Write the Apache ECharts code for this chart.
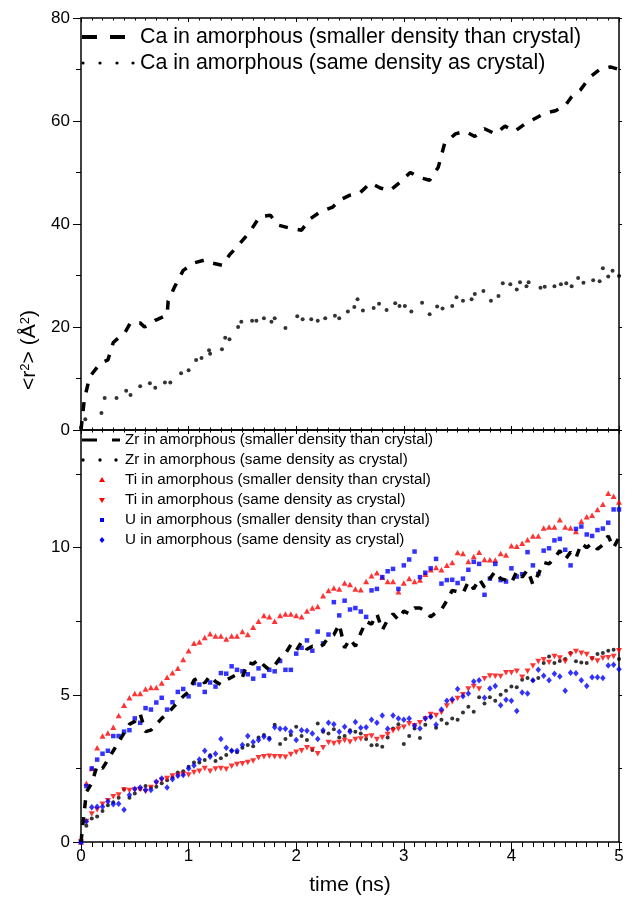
<!DOCTYPE html>
<html>
<head>
<meta charset="utf-8">
<title>MSD amorphous</title>
<script src="https://cdn.jsdelivr.net/npm/echarts@6/dist/echarts.min.js"></script>
<style>
  html, body { margin: 0; padding: 0; background: #fff; }
  #main { width: 631px; height: 900px; }
</style>
</head>
<body>
<div id="main"></div>
<script>
  // top panel: Ca
  const caDashT = [0, 0.03, 0.08, 0.18, 0.25, 0.30, 0.41, 0.46, 0.55, 0.59,
    0.69, 0.80, 0.81, 0.87, 0.95, 1.06, 1.15, 1.22, 1.31, 1.38,
    1.48, 1.57, 1.66, 1.76, 1.83, 1.94, 2.05, 2.13, 2.22, 2.34,
    2.41, 2.50, 2.59, 2.69, 2.78, 2.87, 2.96, 3.06, 3.15, 3.24,
    3.32, 3.38, 3.48, 3.57, 3.66, 3.75, 3.85, 3.94, 4.03, 4.13,
    4.22, 4.31, 4.41, 4.50, 4.56, 4.64, 4.73, 4.82, 4.92, 5.0];
  const caDashV = [0, 5.8, 10.3, 13, 13.6, 17, 19, 20.8, 20.8, 20,
    21.3, 22.3, 25, 27.8, 31, 32.5, 33, 32.4, 32, 34,
    36.3, 38.5, 41.4, 41.7, 39.8, 39.2, 38.8, 41, 42.3, 43.3,
    44.7, 45.6, 46, 48, 47, 46.5, 48, 50, 49, 48.5,
    51, 55.7, 57.5, 58, 57, 58.5, 57.5, 59, 58, 59.5,
    60.5, 61.5, 62, 63, 64.7, 66, 68.5, 70, 70.5, 70];

  const caDotT = [0, 0.04, 0.19, 0.22, 0.33, 0.42, 0.46, 0.55, 0.64, 0.69, 0.78, 0.83, 0.93,
    1.0, 1.07, 1.12, 1.19, 1.2, 1.31, 1.34, 1.38, 1.46, 1.49, 1.59, 1.63, 1.70, 1.77, 1.80, 1.90,
    2.01, 2.06, 2.14, 2.2, 2.27, 2.36, 2.4, 2.48, 2.54, 2.57, 2.62, 2.72, 2.77, 2.84, 2.92, 2.96,
    3.01, 3.07, 3.17, 3.24, 3.31, 3.36, 3.45, 3.49, 3.55, 3.63, 3.66, 3.74, 3.81, 3.88, 3.92, 3.99,
    4.05, 4.08, 4.14, 4.16, 4.27, 4.31, 4.4, 4.46, 4.51, 4.56, 4.62, 4.67, 4.76, 4.82, 4.85, 4.9, 4.94, 5.0];
  const caDotV = [0.5, 2.1, 3.3, 6.2, 6.2, 7.6, 6.8, 8.5, 9.1, 8.2, 9.2, 9.2, 11,
    11.6, 13.6, 14, 15.5, 14.8, 15.7, 17.9, 17.6, 20, 21, 21.2, 21.2, 21.7, 21, 21.7, 19.8,
    22.1, 21.5, 21.5, 21.2, 21.7, 22.2, 21.7, 23, 23.9, 25.4, 23.2, 23.7, 24.5, 23.3, 24.6, 24.1,
    24.1, 23, 24.7, 22.5, 24, 23.6, 24.1, 25.8, 25.1, 25.4, 26.4, 27, 25.1, 26, 28.5, 28.3,
    27.3, 28.7, 27.9, 28.7, 27.6, 27.8, 27.9, 28.3, 28.5, 27.9, 29.5, 28.6, 29.1, 28.9, 31.4, 29.8, 30.9, 29.9];

  // bottom panel: Zr, Ti, U (common time grid, ns)
  const tGrid = [0, 0.05, 0.1, 0.15, 0.2, 0.25, 0.3, 0.35, 0.4, 0.45,
    0.5, 0.55, 0.6, 0.65, 0.7, 0.75, 0.8, 0.85, 0.9, 0.95,
    1.0, 1.05, 1.1, 1.15, 1.2, 1.25, 1.3, 1.35, 1.4, 1.45,
    1.5, 1.55, 1.6, 1.65, 1.7, 1.75, 1.8, 1.85, 1.9, 1.95,
    2.0, 2.05, 2.1, 2.15, 2.2, 2.25, 2.3, 2.35, 2.4, 2.45,
    2.5, 2.55, 2.6, 2.65, 2.7, 2.75, 2.8, 2.85, 2.9, 2.95,
    3.0, 3.05, 3.1, 3.15, 3.2, 3.25, 3.3, 3.35, 3.4, 3.45,
    3.5, 3.55, 3.6, 3.65, 3.7, 3.75, 3.8, 3.85, 3.9, 3.95,
    4.0, 4.05, 4.1, 4.15, 4.2, 4.25, 4.3, 4.35, 4.4, 4.45,
    4.5, 4.55, 4.6, 4.65, 4.7, 4.75, 4.8, 4.85, 4.9, 4.95,
    5.0];

  const zrDash = [0, 1.7, 2.0, 2.6, 2.5, 2.8, 3.1, 3.4, 3.7, 4.0,
    4.1, 4.35, 3.75, 3.8, 4.0, 4.2, 4.35, 4.55, 4.75, 4.95,
    5.1, 5.5, 5.6, 5.4, 5.65, 5.45, 5.35, 5.5, 5.6, 5.7,
    5.6, 6.1, 6.05, 6.2, 6.0, 5.85, 6.0, 6.25, 6.4, 6.7,
    6.5, 6.8, 6.55, 6.65, 6.6, 6.7, 6.95, 7.04, 7.4, 6.6,
    6.9, 6.65, 7.1, 7.5, 7.4, 7.75, 7.2, 7.55, 7.75, 7.55,
    7.85, 7.75, 7.95, 7.95, 7.85, 7.65, 7.8, 7.9, 8.2, 8.55,
    8.5, 8.45, 8.85, 8.6, 8.95, 8.65, 8.95, 9.2, 8.95, 8.9,
    8.8, 9.2, 9.0, 9.25, 8.75, 9.1, 9.5, 9.45, 9.65, 9.9,
    9.6, 9.85, 9.65, 10.15, 10.0, 10.15, 9.95, 10.1, 10.4, 10.0,
    10.35];

  const zrDot = [0, 0.55, 0.8, 0.87, 1.05, 1.25, 1.35, 1.5, 1.79, 1.5,
    1.65, 1.8, 1.9, 1.85, 1.88, 2.0, 2.1, 2.2, 2.36, 2.4,
    2.56, 2.7, 2.7, 2.79, 2.95, 2.75, 2.85, 2.96, 3.1, 3.05,
    3.2, 3.3, 3.25, 3.55, 3.64, 3.53, 3.98, 3.33, 3.5, 3.64,
    3.92, 3.6, 3.47, 3.13, 4.03, 3.75, 3.69, 3.83, 3.55, 3.6,
    3.8, 3.75, 3.69, 3.5, 3.29, 3.3, 3.24, 3.55, 3.86, 4.0,
    3.33, 3.6, 3.86, 3.53, 3.98, 4.26, 3.88, 4.15, 4.03, 4.2,
    4.15, 4.4, 4.6, 4.43, 4.92, 4.71, 4.92, 4.8, 5.0, 5.14,
    5.28, 5.26, 5.51, 5.57, 5.49, 5.57, 6.08, 6.3, 6.08, 6.15,
    6.22, 6.42, 6.14, 6.1, 6.08, 6.25, 6.39, 6.42, 6.5, 6.53,
    6.22];

  const tiUp = [0, 2.0, 2.5, 3.2, 3.6, 3.7, 3.9, 4.3, 4.65, 4.9,
    5.05, 5.05, 5.2, 5.25, 5.25, 5.4, 5.6, 5.75, 5.9, 6.2,
    6.5, 6.75, 6.8, 6.95, 7.08, 7.0, 7.0, 6.9, 7.0, 7.0,
    7.15, 7.05, 7.3, 7.5, 7.7, 7.65, 7.5, 7.7, 7.75, 7.75,
    7.7, 7.65, 7.85, 7.95, 8.0, 8.37, 8.55, 8.63, 8.6, 8.8,
    8.75, 8.6, 8.57, 8.85, 9.05, 9.15, 9.0, 8.85, 8.85, 8.5,
    8.8, 8.95, 8.85, 8.9, 9.1, 9.25, 9.33, 9.25, 9.4, 9.5,
    9.84, 9.8, 9.53, 9.7, 9.85, 9.6, 9.59, 9.58, 9.8, 9.75,
    10.07, 10.05, 10.15, 10.27, 10.4, 10.4, 10.67, 10.7, 10.7, 10.95,
    10.7, 10.67, 10.55, 10.9, 11.05, 11.1, 11.3, 11.48, 11.85, 11.75,
    11.55];

  const tiDown = [0, 0.7, 0.95, 1.1, 1.28, 1.4, 1.54, 1.6, 1.77, 1.75,
    1.77, 1.78, 1.72, 1.85, 2.0, 2.1, 2.16, 2.24, 2.26, 2.3,
    2.28, 2.36, 2.4, 2.5, 2.4, 2.48, 2.5, 2.47, 2.57, 2.63,
    2.66, 2.7, 2.75, 2.86, 2.9, 2.91, 2.9, 2.9, 2.88, 2.97,
    3.05, 3.1, 3.2, 3.14, 3.0, 3.2, 3.38, 3.35, 3.38, 3.45,
    3.4, 3.48, 3.5, 3.58, 3.6, 3.48, 3.55, 3.65, 3.78, 3.84,
    3.9, 4.02, 3.95, 4.05, 4.18, 4.33, 4.3, 4.4, 4.62, 4.77,
    4.88, 5.0, 5.2, 5.28, 5.2, 5.55, 5.64, 5.63, 5.62, 5.75,
    5.75, 5.8, 5.6, 5.8, 5.98, 6.13, 6.19, 6.1, 6.3, 6.25,
    6.13, 6.37, 6.47, 6.41, 6.37, 6.22, 6.15, 6.24, 6.26, 6.3,
    6.5];

  const uUp = [0, 1.9, 2.5, 2.8, 3.0, 3.1, 3.6, 3.6, 3.75, 3.8,
    4.2, 4.05, 4.55, 4.5, 4.74, 4.9, 4.5, 4.75, 5.1, 5.2,
    4.95, 5.4, 5.35, 5.1, 5.42, 5.28, 5.74, 5.72, 5.97, 5.85,
    5.8, 5.7, 5.55, 5.9, 5.65, 5.85, 5.8, 6.15, 5.85, 5.85,
    6.4, 6.6, 6.85, 6.5, 7.15, 6.75, 7.05, 8.15, 7.7, 8.2,
    7.9, 7.95, 7.83, 7.65, 8.55, 8.6, 9.0, 9.2, 9.28, 8.6,
    9.4, 9.6, 9.87, 9.0, 9.15, 9.3, 9.62, 8.78, 8.9, 8.91,
    8.8, 8.95, 9.25, 9.52, 9.45, 8.4, 8.95, 9.45, 8.9, 8.85,
    9.3, 9.02, 9.1, 9.85, 9.4, 9.11, 9.9, 9.98, 10.25, 10.3,
    9.93, 9.4, 10.64, 10.72, 10.45, 10.4, 10.6, 10.65, 10.85, 11.3,
    11.3];

  const uDown = [0, 0.7, 1.18, 1.2, 1.2, 1.38, 1.28, 1.3, 1.1, 1.6,
    1.8, 1.85, 1.77, 1.77, 2.05, 2.16, 1.85, 2.13, 2.25, 2.28,
    2.5, 2.6, 2.8, 3.1, 2.9, 3.0, 3.5, 3.2, 3.1, 3.1,
    3.3, 3.6, 3.4, 3.47, 3.58, 3.5, 3.9, 3.85, 3.85, 3.75,
    3.47, 3.8, 3.78, 3.69, 3.5, 3.8, 4.05, 4.0, 3.75, 3.92,
    3.75, 4.08, 3.88, 3.9, 4.15, 4.05, 4.3, 3.85, 4.3, 4.2,
    4.15, 4.2, 3.95, 3.86, 4.2, 4.26, 3.98, 4.5, 4.8, 4.85,
    5.2, 4.95, 5.05, 5.45, 5.5, 4.9, 5.22, 5.3, 4.65, 4.83,
    4.8, 4.45, 5.08, 5.05, 5.5, 5.85, 5.65, 5.5, 5.72, 5.62,
    5.14, 5.75, 5.73, 5.5, 5.3, 5.6, 5.6, 5.57, 6.0, 6.02,
    5.87];

  const legendTop = [
    'Ca in amorphous (smaller density than crystal)',
    'Ca in amorphous (same density as crystal)'
  ];
  const legendBottom = [
    'Zr in amorphous (smaller density than crystal)',
    'Zr in amorphous (same density as crystal)',
    'Ti in amorphous (smaller density than crystal)',
    'Ti in amorphous (same density as crystal)',
    'U in amorphous (smaller density than crystal)',
    'U in amorphous (same density as crystal)'
  ];

  const FONT = 'Liberation Sans, Arial, sans-serif';
  const zip = (t, v) => t.map((x, i) => [x, v[i]]);

  var myChart = echarts.init(document.getElementById('main'));

  const line = { show: true, onZero: false, lineStyle: { color: '#000', width: 1.5 } };
  const tickStyle = { color: '#000', width: 1 };

  function edgeX(grid, pos, inside) {
    return {
      gridIndex: grid, type: 'value', position: pos, min: 0, max: 5, interval: 1,
      axisLine: line,
      axisTick: { show: true, inside: inside, length: 4, lineStyle: tickStyle },
      minorTick: { show: true, splitNumber: 10, length: 2.5, lineStyle: tickStyle },
      axisLabel: { show: false }, splitLine: { show: false }
    };
  }

  // legend samples
  const graphics = [];
  legendTop.forEach((txt, i) => {
    const y = 37 + i * 26;
    if (i === 0) {
      graphics.push({ type: 'line', shape: { x1: 82, y1: y, x2: 125, y2: y },
        style: { stroke: '#000', lineWidth: 4, lineDash: [15, 13] } });
    } else {
      [83, 100, 117, 133].forEach(x => graphics.push({ type: 'circle', shape: { cx: x, cy: y, r: 1.6 }, style: { fill: '#000' } }));
    }
    graphics.push({ type: 'text', x: 140, y: y,
      style: { text: txt, fontSize: 21.4, fontFamily: FONT, fill: '#000', verticalAlign: 'middle' } });
  });
  legendBottom.forEach((txt, i) => {
    const y = 440 + i * 20;
    if (i === 0) {
      graphics.push({ type: 'line', shape: { x1: 82, y1: y, x2: 120, y2: y },
        style: { stroke: '#000', lineWidth: 3, lineDash: [15, 15] } });
    } else if (i === 1) {
      [83, 100, 116].forEach(x => graphics.push({ type: 'circle', shape: { cx: x, cy: y, r: 1.7 }, style: { fill: '#000' } }));
    } else if (i === 2) {
      graphics.push({ type: 'polygon', shape: { points: [[102, y - 3], [105, y + 2], [99, y + 2]] }, style: { fill: '#ff0000' } });
    } else if (i === 3) {
      graphics.push({ type: 'polygon', shape: { points: [[99, y - 2], [105, y - 2], [102, y + 3]] }, style: { fill: '#ff0000' } });
    } else if (i === 4) {
      graphics.push({ type: 'rect', shape: { x: 100, y: y - 2, width: 4, height: 4 }, style: { fill: '#0000ff' } });
    } else {
      graphics.push({ type: 'polygon', shape: { points: [[102, y - 3], [104.5, y], [102, y + 3], [99.5, y]] }, style: { fill: '#0000ff' } });
    }
    graphics.push({ type: 'text', x: 125, y: y,
      style: { text: txt, fontSize: 15.2, fontFamily: FONT, fill: '#000', verticalAlign: 'middle' } });
  });
  graphics.push({
    type: 'text', x: 29, y: 350, rotation: Math.PI / 2,
    style: {
      text: '<r{s|2}> (Å{s|2})', fontSize: 21, fontFamily: FONT, fill: '#000',
      align: 'center', verticalAlign: 'middle',
      rich: { s: { fontSize: 13, fontFamily: FONT, fill: '#000', verticalAlign: 'top' } }
    }
  });

  var option = {
    animation: false,
    backgroundColor: '#fff',
    textStyle: { fontFamily: FONT },
    grid: [
      { left: 81, right: 12, top: 18, height: 412, outerBoundsMode: 'none' },
      { left: 81, right: 12, top: 430, height: 412, outerBoundsMode: 'none' }
    ],
    xAxis: [
      edgeX(0, 'bottom', true),
      edgeX(0, 'top', true),
      {
        gridIndex: 1, type: 'value', position: 'bottom', min: 0, max: 5, interval: 1,
        axisLine: line,
        axisTick: { show: true, inside: false, length: 9, lineStyle: tickStyle },
        minorTick: { show: true, splitNumber: 10, length: 5, lineStyle: tickStyle },
        axisLabel: { color: '#000', fontSize: 17, fontFamily: FONT, margin: 6 },
        splitLine: { show: false },
        name: 'time (ns)', nameLocation: 'middle', nameGap: 33,
        nameTextStyle: { color: '#000', fontSize: 21, fontFamily: FONT }
      },
      edgeX(1, 'top', true)
    ],
    yAxis: [
      {
        gridIndex: 0, type: 'value', position: 'left', min: 0, max: 80, interval: 20,
        axisLine: line,
        axisTick: { show: true, inside: false, length: 8, lineStyle: tickStyle },
        minorTick: { show: true, splitNumber: 2, length: 5, lineStyle: tickStyle },
        axisLabel: { color: '#000', fontSize: 17, fontFamily: FONT, margin: 11 },
        splitLine: { show: false }
      },
      {
        gridIndex: 0, type: 'value', position: 'right', min: 0, max: 80, interval: 20,
        axisLine: line,
        axisTick: { show: true, inside: false, length: 3, lineStyle: tickStyle },
        minorTick: { show: true, splitNumber: 2, length: 2, lineStyle: tickStyle },
        axisLabel: { show: false }, splitLine: { show: false }
      },
      {
        gridIndex: 1, type: 'value', position: 'left', min: 0, max: 14, interval: 5,
        axisLine: line,
        axisTick: { show: true, inside: false, length: 8, lineStyle: tickStyle },
        axisLabel: { color: '#000', fontSize: 17, fontFamily: FONT, margin: 11, showMaxLabel: false },
        splitLine: { show: false }
      },
      {
        gridIndex: 1, type: 'value', position: 'left', min: 0, max: 14, interval: 2.5,
        axisLine: { show: false },
        axisTick: { show: true, inside: false, length: 5, lineStyle: tickStyle },
        axisLabel: { show: false }, splitLine: { show: false }
      },
      {
        gridIndex: 1, type: 'value', position: 'right', min: 0, max: 14, interval: 2.5,
        axisLine: line,
        axisTick: { show: true, inside: false, length: 3, lineStyle: tickStyle },
        axisLabel: { show: false }, splitLine: { show: false }
      }
    ],
    graphic: graphics,
    series: [
      {
        name: legendTop[1], type: 'scatter', xAxisIndex: 0, yAxisIndex: 0,
        data: zip(caDotT, caDotV), symbol: 'circle', symbolSize: 4,
        itemStyle: { color: '#000' }
      },
      {
        name: legendTop[0], type: 'line', xAxisIndex: 0, yAxisIndex: 0,
        data: zip(caDashT, caDashV), showSymbol: false, symbol: 'none',
        lineStyle: { color: '#000', width: 3.5, type: [9, 10], cap: 'butt' }, z: 3
      },
      {
        name: legendBottom[1], type: 'scatter', xAxisIndex: 2, yAxisIndex: 2,
        data: zip(tGrid, zrDot), symbol: 'circle', symbolSize: 4,
        itemStyle: { color: '#000' }
      },
      {
        name: legendBottom[2], type: 'scatter', xAxisIndex: 2, yAxisIndex: 2,
        data: zip(tGrid, tiUp), symbol: 'triangle', symbolSize: [6, 5.5],
        itemStyle: { color: '#ff0000' }
      },
      {
        name: legendBottom[3], type: 'scatter', xAxisIndex: 2, yAxisIndex: 2,
        data: zip(tGrid, tiDown), symbol: 'triangle', symbolRotate: 180, symbolSize: [6, 5.5],
        itemStyle: { color: '#ff0000' }
      },
      {
        name: legendBottom[4], type: 'scatter', xAxisIndex: 2, yAxisIndex: 2,
        data: zip(tGrid, uUp), symbol: 'rect', symbolSize: 4.5,
        itemStyle: { color: '#0000ff' }
      },
      {
        name: legendBottom[5], type: 'scatter', xAxisIndex: 2, yAxisIndex: 2,
        data: zip(tGrid, uDown), symbol: 'diamond', symbolSize: [5.5, 6.5],
        itemStyle: { color: '#0000ff' }
      },
      {
        name: legendBottom[0], type: 'line', xAxisIndex: 2, yAxisIndex: 2,
        data: zip(tGrid, zrDash), showSymbol: false, symbol: 'none',
        lineStyle: { color: '#000', width: 3.5, type: [8, 9], cap: 'butt' }, z: 3
      }
    ]
  };

  myChart.setOption(option);
</script>
</body>
</html>
